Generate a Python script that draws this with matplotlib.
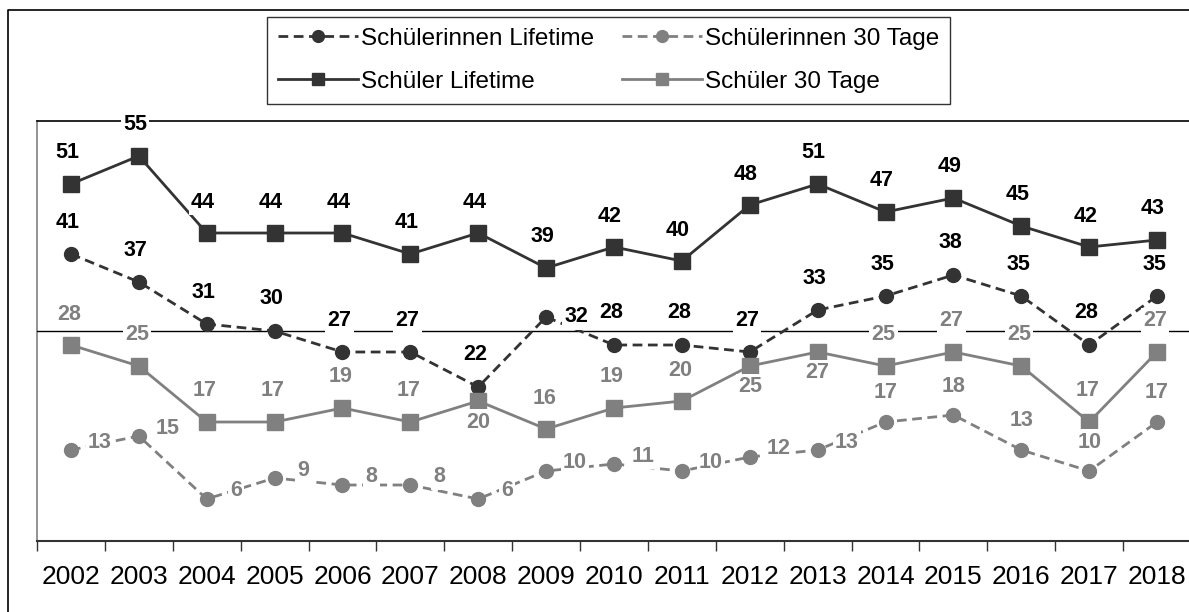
import matplotlib.pyplot as plt
from matplotlib.lines import Line2D

plt.rcParams['font.family'] = ['Liberation Sans', 'DejaVu Sans']

years = [str(y) for y in range(2002, 2019)]
innen_lifetime = [41, 37, 31, 30, 27, 27, 22, 32, 28, 28, 27, 33, 35, 38, 35, 28, 35]
innen_30 = [13, 15, 6, 9, 8, 8, 6, 10, 11, 10, 12, 13, 17, 18, 13, 10, 17]
schueler_lifetime = [51, 55, 44, 44, 44, 41, 44, 39, 42, 40, 48, 51, 47, 49, 45, 42, 43]
schueler_30 = [28, 25, 17, 17, 19, 17, 20, 16, 19, 20, 25, 27, 25, 27, 25, 17, 27]

dark = '#333333'
gray = '#808080'

W, H = 1189, 612
fig = plt.figure(figsize=(W / 100, H / 100), dpi=100)
ax = fig.add_axes([37 / W, 71 / H, 1154 / W, 420 / H])

x = list(range(len(years)))

l1, = ax.plot(x, innen_lifetime, color=dark, ls=(0, (3.5, 2)), lw=2,
              marker='o', ms=10, zorder=3)
l2, = ax.plot(x, schueler_lifetime, color=dark, ls='-', lw=2,
              marker='s', ms=11, zorder=3)
l3, = ax.plot(x, innen_30, color=gray, ls=(0, (3.5, 2)), lw=2,
              marker='o', ms=10, zorder=3)
l4, = ax.plot(x, schueler_30, color=gray, ls='-', lw=2,
              marker='s', ms=11, zorder=3)

ax.axhline(30, color='black', lw=1, zorder=1)


def label(i, v, color, dx, dy):
    ax.annotate(str(v), (i, v), xytext=(dx, dy), textcoords='offset pixels',
                ha='center', va='center', fontsize=15.5, fontweight='bold',
                color=color, zorder=4,
                bbox=dict(fc='white', ec='none', pad=1.5))


for i, v in enumerate(schueler_lifetime):
    label(i, v, 'black', -4, 31)

for i, v in enumerate(innen_lifetime):
    if i == 7:
        label(i, v, 'black', 30, 0)
    else:
        label(i, v, 'black', -3, 32)

for i, v in enumerate(schueler_30):
    if i in (6, 10, 11):
        label(i, v, gray, 0, -21)
    else:
        label(i, v, gray, -2, 31)

for i, v in enumerate(innen_30):
    if i >= 12:
        label(i, v, gray, 0, 29)
    else:
        label(i, v, gray, 29, 8)

ax.set_xlim(-0.5, len(years) - 0.5)
ax.set_ylim(0, 60)
ax.set_yticks([])

ax.set_xticks([i - 0.5 for i in range(len(years) + 1)])
ax.set_xticklabels([])
ax.set_xticks(x, minor=True)
ax.set_xticklabels(years, minor=True, fontsize=19)
ax.tick_params(axis='x', which='major', length=7, width=1, color='#333333', direction='out')
ax.tick_params(axis='x', which='minor', length=0, pad=17)

ax.spines['right'].set_visible(False)
ax.spines['left'].set_color(gray)
ax.spines['left'].set_linewidth(1.2)
ax.spines['top'].set_color('black')
ax.spines['top'].set_linewidth(1.2)
ax.spines['bottom'].set_color('#333333')
ax.spines['bottom'].set_linewidth(1.5)
for s in ax.spines.values():
    s.set_zorder(0)

# outer frame
fig.add_artist(Line2D([8 / W, 8 / W, 1], [0, 1 - 10 / H, 1 - 10 / H],
                      color='black', lw=1.2, transform=fig.transFigure))

leg = fig.legend([l1, l2, l3, l4],
                 ['Schülerinnen Lifetime', 'Schüler Lifetime',
                  'Schülerinnen 30 Tage', 'Schüler 30 Tage'],
                 ncol=2, loc='upper left',
                 bbox_to_anchor=(267 / W, 1 - 17 / H), borderaxespad=0,
                 fontsize=17.5, frameon=True, fancybox=False,
                 handlelength=3.3, handletextpad=0.12, columnspacing=1.15,
                 labelspacing=0.85, borderpad=0.45, markerscale=0.85)
leg.get_frame().set_edgecolor('black')
leg.get_frame().set_linewidth(1)

fig.savefig('out.png', dpi=100)
